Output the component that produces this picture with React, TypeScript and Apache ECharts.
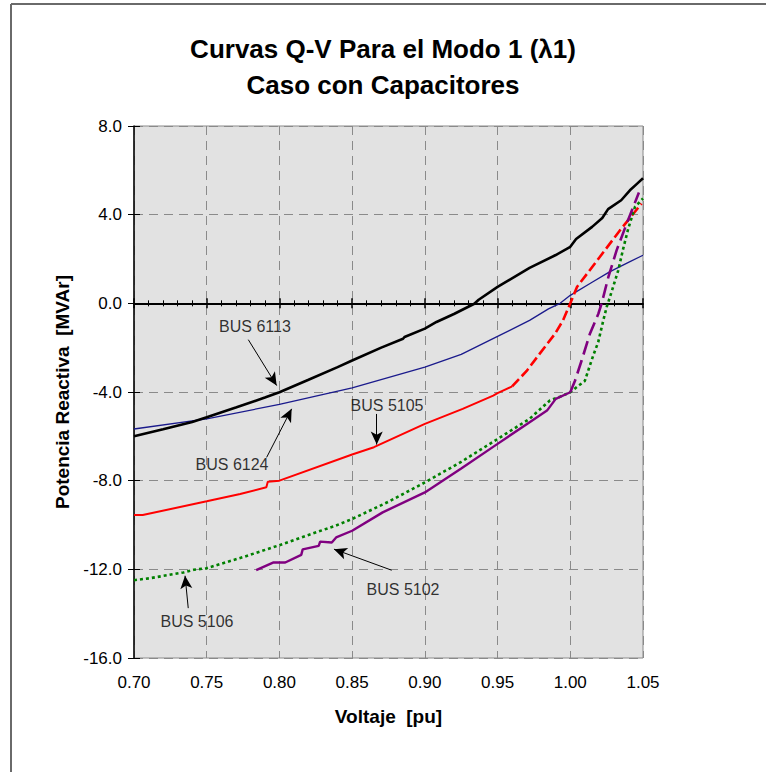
import React, { useEffect, useRef } from "react";
import * as echarts from "echarts";

// ---- Data ----
const xTicks = [0.7, 0.75, 0.8, 0.85, 0.9, 0.95, 1.0, 1.05];
const yTicks = [-16, -12, -8, -4, 0, 4, 8];

// BUS 6113 (black, solid, thick)
const bus6113V = [0.700, 0.720, 0.740, 0.750, 0.770, 0.790, 0.800, 0.820, 0.840, 0.850, 0.870, 0.885, 0.886, 0.900, 0.908, 0.920, 0.934, 0.937, 0.950, 0.972, 0.990, 1.000, 1.004, 1.015, 1.022, 1.026, 1.035, 1.041, 1.046, 1.050];
const bus6113Q = [-6.00, -5.68, -5.35, -5.14, -4.70, -4.25, -4.01, -3.45, -2.88, -2.58, -2.00, -1.60, -1.52, -1.14, -0.84, -0.48, -0.02, 0.16, 0.74, 1.60, 2.18, 2.55, 2.90, 3.45, 3.85, 4.25, 4.65, 5.10, 5.40, 5.64];

// BUS 6124 (navy, thin)
const bus6124V = [0.700, 0.750, 0.800, 0.850, 0.900, 0.925, 0.950, 0.972, 0.985, 0.993, 1.000, 1.015, 1.027, 1.040, 1.050];
const bus6124Q = [-5.67, -5.21, -4.56, -3.81, -2.88, -2.30, -1.49, -0.77, -0.25, 0.00, 0.36, 0.95, 1.42, 1.85, 2.17];

// BUS 5105 (red) - solid lower part, dashed upper part
const bus5105LowV = [0.700, 0.706, 0.750, 0.773, 0.791, 0.792, 0.800, 0.850, 0.865, 0.900, 0.926, 0.947, 0.950, 0.960];
const bus5105LowQ = [-9.55, -9.55, -8.93, -8.60, -8.30, -8.05, -8.00, -6.82, -6.49, -5.44, -4.76, -4.16, -4.05, -3.75];
const bus5105HighV = [0.960, 0.970, 0.979, 0.9895, 0.995, 1.000, 1.0046, 1.0204, 1.0342, 1.049];
const bus5105HighQ = [-3.75, -3.05, -2.27, -1.37, -0.77, 0.00, 0.74, 2.10, 3.30, 4.50];

// BUS 5106 (green, dotted)
const bus5106V = [0.700, 0.711, 0.734, 0.741, 0.750, 0.775, 0.800, 0.820, 0.835, 0.838, 0.850, 0.875, 0.900, 0.925, 0.950, 0.972, 0.986, 0.9924, 1.000, 1.005, 1.010, 1.0135, 1.0158, 1.0192, 1.0227, 1.025, 1.0273, 1.033, 1.0364, 1.0399, 1.0445, 1.050];
const bus5106Q = [-12.49, -12.40, -12.14, -12.02, -11.95, -11.45, -10.91, -10.45, -10.11, -10.05, -9.73, -8.95, -8.08, -7.15, -6.12, -5.21, -4.38, -4.23, -4.01, -3.75, -3.50, -2.80, -2.35, -1.75, -0.77, -0.17, 0.29, 1.49, 2.47, 3.38, 4.35, 4.73];

// BUS 5102 (purple) - solid lower part, long-dashed upper part
const bus5102LowV = [0.784, 0.796, 0.804, 0.815, 0.816, 0.827, 0.828, 0.836, 0.839, 0.850, 0.871, 0.900, 0.925, 0.950, 0.970, 0.984, 0.990, 1.000];
const bus5102LowQ = [-12.04, -11.69, -11.69, -11.35, -11.10, -10.94, -10.75, -10.79, -10.56, -10.26, -9.43, -8.53, -7.45, -6.34, -5.45, -4.84, -4.31, -4.01];
const bus5102HighV = [1.000, 1.0033, 1.0078, 1.0135, 1.0193, 1.0216, 1.0262, 1.0319, 1.0388, 1.0472];
const bus5102HighQ = [-4.01, -3.48, -2.58, -1.37, -0.47, 0.00, 1.19, 2.40, 3.60, 5.00];

// Annotations: label text, label position, arrow start and arrow tip (data coords)
const annoNames = ["BUS 6113", "BUS 6124", "BUS 5105", "BUS 5102", "BUS 5106"];
const annoLabelV = [0.7832, 0.7674, 0.874, 0.885, 0.7433];
const annoLabelQ = [-1.04, -7.28, -4.61, -12.93, -14.37];
const arrowFromV = [0.7786, 0.7912, 0.8669, 0.8772, 0.7373];
const arrowFromQ = [-1.64, -6.95, -4.99, -12.04, -13.75];
const arrowToV = [0.7981, 0.8084, 0.8669, 0.8375, 0.7351];
const arrowToQ = [-3.71, -4.76, -6.37, -11.09, -12.29];

const titleLines = ["Curvas Q-V Para el Modo 1 (λ1)", "Caso con Capacitores"];

const zip = (a: number[], b: number[]) => a.map((v, i) => [v, b[i]]);

const FONT = "Liberation Sans, Arial, sans-serif";

export default function App() {
  const ref = useRef<HTMLDivElement>(null);

  useEffect(() => {
    document.body.style.margin = "0";
    if (!ref.current) return;
    const chart = echarts.init(ref.current, undefined, { renderer: "svg" });

    const xMin = xTicks[0];
    const xMax = xTicks[xTicks.length - 1];
    const yMin = yTicks[0];
    const yMax = yTicks[yTicks.length - 1];

    const baseX = { type: "value", min: xMin, max: xMax, interval: 0.05 };
    const baseY = { type: "value", min: yMin, max: yMax, interval: 4 };

    const titleStyle = {
      fontFamily: FONT,
      fontSize: 26,
      fontWeight: "bold",
      color: "#000",
    };

    const option: any = {
      animation: false,
      backgroundColor: "#ffffff",
      title: [
        { text: titleLines[0], left: "center", top: 36, padding: 0, textStyle: titleStyle },
        { text: titleLines[1], left: "center", top: 72, padding: 0, textStyle: titleStyle },
      ],
      grid: {
        left: 134,
        top: 126,
        right: 123,
        bottom: 114,
        show: true,
        backgroundColor: "#e2e2e2",
        borderColor: "#8a8a8a",
        borderWidth: 1,
      },
      xAxis: [
        {
          ...baseX,
          position: "bottom",
          axisLine: { show: false, onZero: false },
          axisTick: { show: false },
          axisLabel: {
            show: true,
            margin: 16,
            fontFamily: FONT,
            fontSize: 17,
            color: "#000",
            formatter: (v: number) => v.toFixed(2),
          },
          splitLine: {
            show: true,
            lineStyle: { color: "#8a8a8a", width: 1, type: [9, 6] },
          },
          name: "Voltaje  [pu]",
          nameLocation: "middle",
          nameGap: 49,
          nameTextStyle: { fontFamily: FONT, fontSize: 19, fontWeight: "bold", color: "#000" },
        },
        {
          ...baseX,
          position: "bottom",
          axisLine: {
            show: true,
            onZero: true,
            onZeroAxisIndex: 0,
            lineStyle: { color: "#000", width: 2 },
          },
          axisTick: { show: true, inside: false, length: 5, lineStyle: { color: "#000", width: 1.5 } },
          minorTick: { show: true, splitNumber: 5, length: 3, lineStyle: { color: "#000", width: 1 } },
          axisLabel: { show: false },
          splitLine: { show: false },
        },
        {
          ...baseX,
          position: "bottom",
          axisLine: { show: false, onZero: true, onZeroAxisIndex: 0 },
          axisTick: { show: true, inside: true, length: 5, lineStyle: { color: "#000", width: 1.5 } },
          minorTick: { show: true, splitNumber: 5, length: 3, lineStyle: { color: "#000", width: 1 } },
          axisLabel: { show: false },
          splitLine: { show: false },
        },
      ],
      yAxis: [
        {
          ...baseY,
          position: "left",
          axisLine: { show: true, onZero: false, lineStyle: { color: "#000", width: 1.5 } },
          axisTick: { show: true, inside: false, length: 6, lineStyle: { color: "#000", width: 1 } },
          axisLabel: {
            margin: 12,
            fontFamily: FONT,
            fontSize: 17,
            color: "#000",
            formatter: (v: number) => v.toFixed(1),
          },
          splitLine: {
            show: true,
            lineStyle: { color: "#8a8a8a", width: 1, type: [9, 6] },
          },
          name: "Potencia Reactiva  [MVAr]",
          nameLocation: "middle",
          nameGap: 58,
          nameTextStyle: { fontFamily: FONT, fontSize: 19, fontWeight: "bold", color: "#000" },
        },
        {
          ...baseY,
          position: "left",
          axisLine: { show: false, onZero: false },
          axisTick: { show: true, inside: true, length: 6, lineStyle: { color: "#000", width: 1 } },
          axisLabel: { show: false },
          splitLine: { show: false },
        },
      ],
      graphic: [
        {
          type: "line",
          shape: { x1: 11, y1: 4, x2: 766, y2: 4 },
          style: { stroke: "#6a6a6a", lineWidth: 2 },
          silent: true,
        },
        {
          type: "line",
          shape: { x1: 11, y1: 4, x2: 11, y2: 772 },
          style: { stroke: "#6a6a6a", lineWidth: 2 },
          silent: true,
        },
      ],
      series: [
        {
          name: "BUS 6124",
          type: "line",
          data: zip(bus6124V, bus6124Q),
          symbol: "none",
          lineStyle: { color: "#1a1a8c", width: 1.3 },
          z: 3,
        },
        {
          name: "BUS 6113",
          type: "line",
          data: zip(bus6113V, bus6113Q),
          symbol: "none",
          lineStyle: { color: "#000000", width: 2.6 },
          z: 4,
        },
        {
          name: "BUS 5105",
          type: "line",
          data: zip(bus5105LowV, bus5105LowQ),
          symbol: "none",
          lineStyle: { color: "#ff0000", width: 2 },
          z: 4,
        },
        {
          name: "BUS 5105 b",
          type: "line",
          data: zip(bus5105HighV, bus5105HighQ),
          symbol: "none",
          lineStyle: { color: "#ff0000", width: 2.6, type: [10, 4] },
          z: 4,
        },
        {
          name: "BUS 5106",
          type: "line",
          data: zip(bus5106V, bus5106Q),
          symbol: "none",
          lineStyle: { color: "#008000", width: 2.6, type: [3, 3] },
          z: 4,
        },
        {
          name: "BUS 5102",
          type: "line",
          data: zip(bus5102LowV, bus5102LowQ),
          symbol: "none",
          lineStyle: { color: "#800080", width: 2.4 },
          z: 5,
        },
        {
          name: "BUS 5102 b",
          type: "line",
          data: zip(bus5102HighV, bus5102HighQ),
          symbol: "none",
          lineStyle: { color: "#800080", width: 2.6, type: [14, 6] },
          z: 5,
        },
        {
          name: "annotations",
          type: "scatter",
          symbolSize: 0,
          data: annoNames.map((n, i) => [annoLabelV[i], annoLabelQ[i], n]),
          label: {
            show: true,
            position: "inside",
            formatter: (p: any) => p.value[2],
            fontFamily: FONT,
            fontSize: 16,
            color: "#000",
          },
          markLine: {
            silent: true,
            symbol: ["none", "arrow"],
            symbolSize: [9, 13],
            label: { show: false },
            lineStyle: { color: "#000", width: 1, type: "solid" },
            data: annoNames.map((_, i) => [
              { coord: [arrowFromV[i], arrowFromQ[i]] },
              { coord: [arrowToV[i], arrowToQ[i]] },
            ]),
          },
          z: 6,
        },
      ],
    };

    chart.setOption(option);
    return () => chart.dispose();
  }, []);

  return <div ref={ref} style={{ width: 766, height: 772 }} />;
}
